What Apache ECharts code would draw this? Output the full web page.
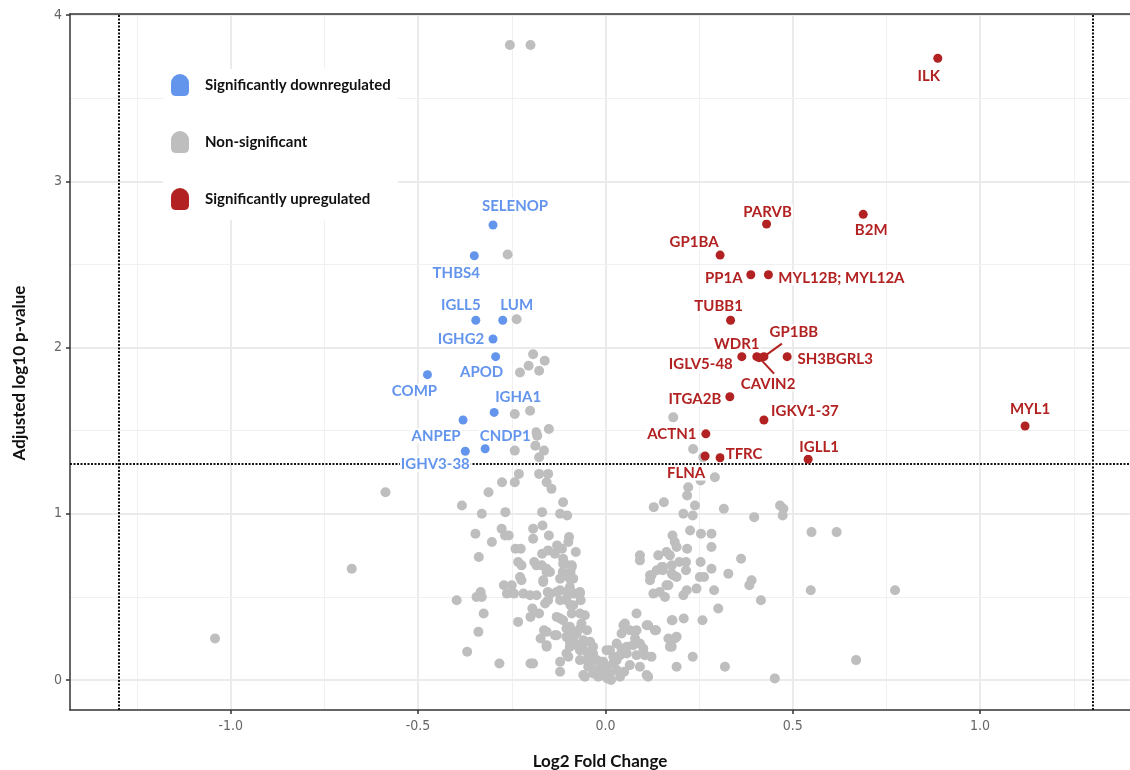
<!DOCTYPE html>
<html>
<head>
<meta charset="utf-8">
<script src="https://cdn.jsdelivr.net/npm/echarts@6/dist/echarts.min.js"></script>
<style>
html,body{margin:0;padding:0;background:#fff;}
#chart{width:1130px;height:770px;}
</style>
</head>
<body>
<div id="chart"></div>
<script>
// ---- axis ticks / thresholds ----
const xTicks = [-1, -0.5, 0, 0.5, 1];
const xMinorTicks = [-1.25, -0.75, -0.25, 0.25, 0.75, 1.25];
const yTicks = [0, 1, 2, 3, 4];
const yMinorTicks = [0.5, 1.5, 2.5, 3.5];
const fcThresholds = [-1.3, 1.3];
const pThreshold = 1.3;

// ---- significantly downregulated ----
const downGenes = ['SELENOP','THBS4','IGLL5','LUM','IGHG2','APOD','COMP','IGHA1','ANPEP','CNDP1','IGHV3-38'];
const downLog2FC = [-0.300,-0.350,-0.346,-0.274,-0.300,-0.293,-0.475,-0.297,-0.380,-0.321,-0.374];
const downLogP = [2.737,2.552,2.164,2.164,2.051,1.945,1.837,1.610,1.564,1.391,1.376];

// ---- significantly upregulated ----
const upGenes = ['ILK','PARVB','B2M','GP1BA','PP1A','MYL12B; MYL12A','TUBB1','WDR1','IGLV5-48','GP1BB','CAVIN2','SH3BGRL3','ITGA2B','IGKV1-37','ACTN1','TFRC','FLNA','IGLL1','MYL1'];
const upLog2FC = [0.887,0.430,0.688,0.306,0.388,0.435,0.334,0.404,0.364,0.423,0.410,0.485,0.332,0.423,0.268,0.306,0.266,0.541,1.120];
const upLogP = [3.740,2.743,2.801,2.556,2.438,2.438,2.164,1.945,1.945,1.945,1.939,1.945,1.704,1.564,1.481,1.337,1.347,1.328,1.528];

// ---- non-significant proteins [log2FC, -log10 adj p] ----
const nonSigPoints = [
[-0.255,3.82],[-0.200,3.82],
[-0.261,2.56],[-0.237,2.17],
[-0.193,1.96],[-0.162,1.92],[-0.205,1.89],[-0.177,1.86],[-0.228,1.85],
[-0.242,1.60],[-0.201,1.62],
[-0.151,1.51],[-0.185,1.49],[-0.182,1.47],[-0.187,1.41],[-0.164,1.38],[-0.242,1.38],[-0.177,1.34],
[-0.231,1.24],[-0.177,1.24],[-0.153,1.24],
[-0.587,1.13],
[-0.276,1.19],[-0.242,1.19],[-0.157,1.19],[-0.144,1.15],
[-0.312,1.13],[-0.383,1.05],[-0.113,1.07],
[-0.330,1.00],[-0.267,1.01],[-0.169,1.01],[-0.121,1.00],[-0.102,0.99],
[-0.347,0.88],[-0.277,0.91],[-0.268,0.87],[-0.258,0.87],[-0.303,0.83],[-0.193,0.91],[-0.168,0.93],[-0.193,0.85],[-0.151,0.87],[-0.097,0.86],[-0.099,0.83],
[-0.240,0.79],[-0.226,0.79],[-0.129,0.81],[-0.116,0.79],[-0.169,0.76],[-0.153,0.78],[-0.135,0.76],[-0.079,0.77],
[-0.338,0.74],[-0.233,0.71],[-0.224,0.69],[-0.190,0.71],[-0.184,0.69],[-0.170,0.69],[-0.157,0.67],[-0.148,0.65],[-0.113,0.73],[-0.108,0.70],[-0.090,0.69],[-0.093,0.65],[-0.114,0.65],
[-0.228,0.62],[-0.224,0.60],[-0.166,0.59],[-0.121,0.61],[-0.086,0.61],
[-0.271,0.57],[-0.250,0.57],[-0.263,0.52],[-0.244,0.52],[-0.219,0.52],[-0.201,0.51],[-0.184,0.51],[-0.154,0.53],[-0.153,0.48],[-0.130,0.53],[-0.121,0.48],[-0.104,0.53],[-0.086,0.52],[-0.068,0.52],[-0.066,0.48],[-0.093,0.45],
[-0.397,0.48],[-0.344,0.50],[-0.333,0.53],[-0.330,0.50],
[-0.325,0.40],[-0.195,0.43],[-0.177,0.40],[-0.200,0.38],[-0.233,0.35],
[-0.121,0.37],[-0.113,0.36],[-0.068,0.40],[-0.055,0.39],
[-0.339,0.29],[-0.164,0.30],[-0.173,0.25],[-0.130,0.27],[-0.104,0.31],[-0.086,0.29],[-0.068,0.31],[-0.049,0.30],
[-0.369,0.17],[-0.157,0.20],[-0.095,0.23],[-0.104,0.16],[-0.077,0.21],[-0.059,0.24],[-0.041,0.23],[-0.033,0.20],
[-0.283,0.10],[-0.200,0.10],[-0.193,0.10],[-0.121,0.11],[-0.121,0.05],[-0.050,0.12],[-0.033,0.12],[-0.015,0.11],[-0.055,0.02],[-0.033,0.04],[-0.015,0.06],[0.003,0.02],[0.003,0.18],
[0.083,0.40],[0.052,0.34],[0.043,0.28],[0.065,0.30],[0.083,0.30],[0.079,0.25],[0.110,0.33],[0.132,0.30],[0.168,0.25],[0.185,0.25],[0.177,0.36],
[0.030,0.22],[0.043,0.19],[0.057,0.20],[0.074,0.21],[0.092,0.22],[0.101,0.19],[0.123,0.14],[0.172,0.20],
[0.012,0.18],[0.021,0.14],[0.039,0.15],[0.057,0.16],[0.083,0.15],[0.105,0.15],
[0.065,0.09],[0.092,0.08],[0.110,0.03],[0.039,0.02],[0.190,0.08],
[-0.041,0.14],[-0.023,0.12],[-0.006,0.11],[0.003,0.08],[0.012,0.04],[0.030,0.06],[-0.059,0.03],[-0.019,0.02],[0.005,0.01],[-0.046,0.08],[-0.068,0.12],
[-0.130,0.38],[-0.095,0.32],[-0.077,0.28],[-0.086,0.24],[-0.059,0.22],[-0.068,0.18],[-0.050,0.17],[-0.033,0.16],[-0.095,0.20],[-0.104,0.26],[-0.157,0.29],[-0.135,0.27],[-0.157,0.21],[-0.099,0.14],[-0.090,0.40],[-0.064,0.34],[-0.086,0.45],[-0.077,0.52],[-0.095,0.56],[-0.068,0.53],[-0.121,0.54],[-0.148,0.52],[-0.161,0.46],[-0.104,0.48],
[-0.113,0.64],[-0.090,0.68],[-0.095,0.61],[-0.113,0.70],[-0.157,0.65],[-0.166,0.60],
[0.119,0.63],[0.137,0.66],[0.154,0.68],[0.128,0.52],[0.145,0.53],[0.159,0.50],[0.163,0.57],[0.181,0.63],[0.177,0.69],
[0.292,1.22],[0.221,1.16],[0.218,1.11],[0.129,1.04],[0.156,1.07],[0.239,1.05],[0.316,1.03],[0.208,1.00],[0.233,0.99],[0.397,0.98],[0.466,1.05],[0.475,1.03],[0.473,0.99],[0.550,0.89],[0.617,0.89],
[0.226,0.90],[0.255,0.88],[0.283,0.88],[0.179,0.87],[0.185,0.83],[0.190,0.80],[0.218,0.79],[0.283,0.80],[0.092,0.75],[0.092,0.72],[0.141,0.75],[0.163,0.77],[0.172,0.75],[0.197,0.71],[0.215,0.71],[0.254,0.71],[0.362,0.73],
[0.150,0.68],[0.153,0.66],[0.123,0.63],[0.177,0.64],[0.190,0.62],[0.215,0.66],[0.252,0.62],[0.263,0.62],[0.283,0.67],[0.328,0.64],[0.119,0.60],[0.168,0.57],[0.390,0.60],[0.384,0.57],
[0.208,0.51],[0.217,0.54],[0.243,0.55],[0.290,0.54],[0.415,0.48],[0.548,0.54],[0.773,0.54],
[0.179,0.36],[0.209,0.37],[0.259,0.36],[0.301,0.43],
[0.048,0.33],[0.114,0.33],[0.135,0.30],[0.079,0.29],[0.190,0.26],[0.177,0.20],[0.233,0.14],[0.319,0.08],[0.452,0.01],[0.669,0.12],[0.114,0.02],
[0.181,1.58],[0.234,1.39],[0.261,1.34],[0.254,1.20],[-0.677,0.67],[-1.042,0.25],
[0.000,0.05],[0.020,0.10],[-0.010,0.08],[0.030,0.12],[-0.030,0.06],[0.050,0.05],[0.015,0.00],[-0.005,0.03]
];

// ---- label placement (pixel offsets of label centre from its point) ----
const labelOffset = {
  'SELENOP':[22,-19],'THBS4':[-18,17],'IGLL5':[-15,-15],'LUM':[14,-15],'IGHG2':[-32,0],
  'APOD':[-14,15],'COMP':[-13,17],'IGHA1':[24,-15],'ANPEP':[-27,16],'CNDP1':[20,-13],'IGHV3-38':[-30,13],
  'ILK':[-9,18],'PARVB':[1,-12],'B2M':[8,16],'GP1BA':[-26,-13],'PP1A':[-27,3],'MYL12B; MYL12A':[73,3],
  'TUBB1':[-12,-14],'WDR1':[-20,-13],'IGLV5-48':[-41,7],'GP1BB':[30,-25],'CAVIN2':[9,26],
  'SH3BGRL3':[48,2],'ITGA2B':[-35,2],'IGKV1-37':[41,-9],'ACTN1':[-34,0],'TFRC':[24,-4],
  'FLNA':[-19,17],'IGLL1':[11,-12],'MYL1':[5,-17]
};
const leaderLines = { 'GP1BB':[18,-13], 'CAVIN2':[15,16] };

const BLUE = '#6495ED', RED = '#B22222', GREY = '#BEBEBE';
const LABEL_FONT = 'Lato, "Open Sans", sans-serif';
const TICK_FONT = '"Liberation Sans Narrow", "Arial Narrow", "DejaVu Sans Condensed", sans-serif';

function geneData(genes, fc, p) {
  return genes.map((g, i) => ({
    name: g,
    value: [fc[i], p[i]],
    label: { offset: labelOffset[g] || [0, 0] }
  }));
}
const downData = geneData(downGenes, downLog2FC, downLogP);
const upData = geneData(upGenes, upLog2FC, upLogP);
const leaderNames = Object.keys(leaderLines);
const leaderData = leaderNames.map(g => {
  const i = upGenes.indexOf(g);
  return [upLog2FC[i], upLogP[i]];
});

const gridMajor = { color: '#EBEBEB', width: 2, type: 'solid' };
const gridMinor = { color: '#F0F0F0', width: 1, type: 'solid' };
const gridLines = []
  .concat(xTicks.map(v => ({ xAxis: v, lineStyle: gridMajor })))
  .concat(xMinorTicks.map(v => ({ xAxis: v, lineStyle: gridMinor })))
  .concat(yTicks.map(v => ({ yAxis: v, lineStyle: gridMajor })))
  .concat(yMinorTicks.map(v => ({ yAxis: v, lineStyle: gridMinor })));
const thresholdLines = fcThresholds.map(v => ({ xAxis: v })).concat([{ yAxis: pThreshold }]);

function geneLabel(color) {
  return {
    show: true, position: 'inside', formatter: '{b}',
    color: color, fontFamily: LABEL_FONT, fontWeight: 'bold', fontSize: 15,
    backgroundColor: '#fff', padding: [0, 1]
  };
}

const chart = echarts.init(document.getElementById('chart'), null, { renderer: 'canvas' });
chart.setOption({
  animation: false,
  backgroundColor: '#fff',
  grid: { left: 70, right: 0, top: 14, bottom: 60, containLabel: false, outerBoundsMode: 'none' },
  legend: {
    orient: 'vertical', left: 163, top: 69,
    backgroundColor: '#fff', padding: [5, 7, 10, 8],
    itemWidth: 18, itemHeight: 22, itemGap: 35,
    icon: 'path://M0,9 A9,9 0 0 1 18,9 L18,17 Q18,22 13,22 L5,22 Q0,22 0,17 Z',
    data: ['Significantly downregulated', 'Non-significant', 'Significantly upregulated'],
    textStyle: { fontFamily: LABEL_FONT, fontWeight: 'bold', fontSize: 15, color: '#111', padding: [0, 0, 0, 11] },
    selectedMode: false
  },
  xAxis: [{
    type: 'value', min: -1.429, max: 1.40,
    name: 'Log2 Fold Change', nameLocation: 'middle', nameGap: 43,
    nameTextStyle: { fontFamily: LABEL_FONT, fontWeight: 'bold', fontSize: 17, color: '#111' },
    axisLine: { show: true, onZero: false, lineStyle: { color: '#333', width: 1.5 } },
    axisTick: { show: true, customValues: xTicks, length: 4, lineStyle: { color: '#333', width: 1.5 } },
    axisLabel: { customValues: xTicks, margin: 9, formatter: v => v.toFixed(1),
      fontFamily: TICK_FONT, fontSize: 14, color: '#666' },
    splitLine: { show: false }
  }, {
    type: 'value', position: 'top', min: -1.429, max: 1.40,
    axisLine: { show: true, onZero: false, lineStyle: { color: '#333', width: 1.5 } },
    axisTick: { show: false }, axisLabel: { show: false }, splitLine: { show: false }
  }],
  yAxis: {
    type: 'value', min: -0.18, max: 4.006,
    name: 'Adjusted log10 p-value', nameLocation: 'middle', nameGap: 42,
    nameTextStyle: { fontFamily: LABEL_FONT, fontWeight: 'bold', fontSize: 17, color: '#111', padding: [0, 22, 0, 0] },
    axisLine: { show: true, onZero: false, lineStyle: { color: '#333', width: 1.5 } },
    axisTick: { show: true, customValues: yTicks, length: 4, lineStyle: { color: '#333', width: 1.5 } },
    axisLabel: { customValues: yTicks, margin: 8, fontFamily: TICK_FONT, fontSize: 14, color: '#666' },
    splitLine: { show: false }
  },
  series: [
    {
      name: 'gridlines', type: 'scatter', data: [], z: 0, silent: true,
      markLine: { z: 0, silent: true, symbol: 'none', label: { show: false }, animation: false, data: gridLines }
    },
    {
      name: 'thresholds', type: 'scatter', data: [], z: 1, silent: true,
      markLine: { z: 1, silent: true, symbol: 'none', label: { show: false }, animation: false,
        lineStyle: { color: '#111', width: 2, type: [2, 1.5] }, data: thresholdLines }
    },
    {
      name: 'Non-significant', type: 'scatter', z: 2, symbolSize: 10,
      itemStyle: { color: GREY, opacity: 1 }, data: nonSigPoints
    },
    {
      name: 'Significantly downregulated', type: 'scatter', z: 3, symbolSize: 9,
      itemStyle: { color: BLUE, opacity: 1 }, label: geneLabel(BLUE), data: downData
    },
    {
      name: 'Significantly upregulated', type: 'scatter', z: 3, symbolSize: 9,
      itemStyle: { color: RED, opacity: 1 }, label: geneLabel(RED), data: upData
    },
    {
      name: 'leaders', type: 'custom', z: 3, silent: true, data: leaderData,
      renderItem: function (params, api) {
        const p = api.coord([api.value(0), api.value(1)]);
        const d = leaderLines[leaderNames[params.dataIndex]];
        return { type: 'line', shape: { x1: p[0], y1: p[1], x2: p[0] + d[0], y2: p[1] + d[1] },
          style: { stroke: RED, lineWidth: 2 } };
      }
    }
  ]
});
</script>
</body>
</html>
